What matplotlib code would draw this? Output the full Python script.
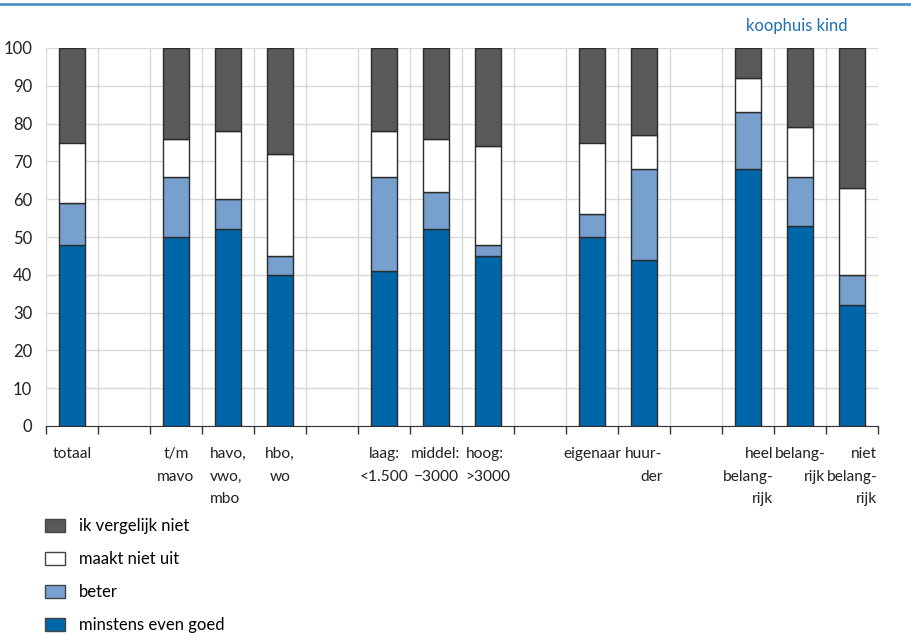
import matplotlib
matplotlib.use("Agg")
import matplotlib.pyplot as plt
from matplotlib.patches import Patch
from matplotlib.lines import Line2D

plt.rcParams['font.family'] = ['Lato', 'DejaVu Sans']

# categorieën (lege strings = tussenruimte)
categories = ['totaal', '', 't/m\nmavo', 'havo,\nvwo,\nmbo', 'hbo,\nwo', '',
              'laag:\n<1.500', 'middel:\n\u22123000', 'hoog:\n>3000', '',
              'eigenaar', 'huur-\nder', '',
              'heel\nbelang-\nrijk', 'belang-\nrijk', 'niet\nbelang-\nrijk']
label_align = ['center', 'center', 'center', 'left', 'center', 'center',
               'center', 'center', 'left', 'center',
               'center', 'right', 'center',
               'right', 'right', 'right']

# waarden (None = geen staaf)
goed = [48, None, 50, 52, 40, None, 41, 52, 45, None, 50, 44, None, 68, 53, 32]
beter = [11, None, 16, 8, 5, None, 25, 10, 3, None, 6, 24, None, 15, 13, 8]
maakt_niet_uit = [16, None, 10, 18, 27, None, 12, 14, 26, None, 19, 9, None, 9, 13, 23]
vergelijk_niet = [25, None, 24, 22, 28, None, 22, 24, 26, None, 25, 23, None, 8, 21, 37]

series = [
    ('minstens even goed', goed, '#0066aa'),
    ('beter', beter, '#78a0cf'),
    ('maakt niet uit', maakt_niet_uit, '#ffffff'),
    ('ik vergelijk niet', vergelijk_niet, '#58595b'),
]

fs = 12

fig = plt.figure(figsize=(9.12, 6.35), dpi=100)
ax = fig.add_axes([46 / 912, 1 - 426 / 635, 832 / 912, 378 / 635])

n = len(categories)
pos = [i + 0.5 for i in range(n)]
bottoms = [0] * n
for name, vals, color in series:
    xs = [p for p, v in zip(pos, vals) if v is not None]
    hs = [v for v in vals if v is not None]
    bs = [b for b, v in zip(bottoms, vals) if v is not None]
    ax.bar(xs, hs, bottom=bs, width=0.5, color=color, edgecolor='#2b2b2b',
           linewidth=1.0, zorder=3)
    bottoms = [b + (v or 0) for b, v in zip(bottoms, vals)]

ax.set_xlim(0, n)
ax.set_ylim(0, 100)
ax.set_yticks(range(0, 101, 10))
ax.tick_params(axis='y', length=0, pad=10, labelsize=fs, colors='#222222')

ax.set_xticks(pos)
ax.set_xticklabels(categories, fontsize=11.2, linespacing=1.8, color='#222222')
for lbl, al in zip(ax.get_xticklabels(), label_align):
    lbl.set_multialignment(al)
ax.set_xticks(range(n + 1), minor=True)
ax.tick_params(axis='x', which='major', length=0, pad=15)
ax.tick_params(axis='x', which='minor', length=6, width=1, color='#333333')

ax.grid(True, which='major', axis='y', color='#d9d9d9', linewidth=1, zorder=0)
ax.grid(True, which='minor', axis='x', color='#d9d9d9', linewidth=1, zorder=0)
for s in ['top', 'right', 'left']:
    ax.spines[s].set_visible(False)
ax.spines['bottom'].set_color('#333333')
ax.spines['bottom'].set_zorder(4)

# blauwe lijn bovenaan en label
fig.add_artist(Line2D([0, 1], [1 - 4 / 635, 1 - 4 / 635], color='#4f94c6',
                      linewidth=2, transform=fig.transFigure))
fig.text(848 / 912, 1 - 26 / 635, 'koophuis kind', ha='right', va='center',
         fontsize=fs, color='#1f6fb2')

handles = [Patch(facecolor=c, edgecolor='#444444', linewidth=1) for _, _, c in series[::-1]]
labels = [name for name, _, _ in series[::-1]]
fig.legend(handles, labels, loc='upper left', bbox_to_anchor=(45 / 912, 1 - 518 / 635),
           frameon=False, fontsize=fs, labelspacing=1.02, handlelength=1.2,
           handleheight=0.85, handletextpad=0.85, borderpad=0, borderaxespad=0)

fig.savefig('out.png', dpi=100)
